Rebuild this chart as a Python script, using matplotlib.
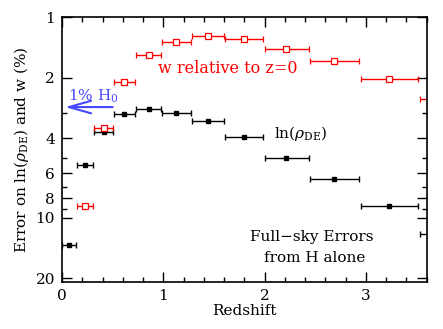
import matplotlib

matplotlib.use("Agg")
import matplotlib.pyplot as plt  # noqa: E402
from matplotlib.ticker import FixedLocator, MultipleLocator, NullFormatter  # noqa: E402

plt.rcParams.update({"font.family": "DejaVu Serif", "mathtext.fontset": "dejavuserif",
                     "font.size": 10})

# redshift bins (centre, lower edge, upper edge)
z_mid = [0.069, 0.227, 0.41, 0.615, 0.855, 1.128, 1.444, 1.80, 2.216, 2.69, 3.23, 3.80]
z_lo = [0.0, 0.151, 0.32, 0.513, 0.734, 0.99, 1.28, 1.61, 2.004, 2.445, 2.95, 3.53]
z_hi = [0.138, 0.309, 0.50, 0.724, 0.977, 1.27, 1.60, 1.987, 2.435, 2.935, 3.517, 4.15]

# error on ln(rho_DE) [%]
err_lnrho = [13.6, 5.47, 3.72, 3.04, 2.87, 3.01, 3.29, 3.96, 5.01, 6.42, 8.73, 12.0]
# error on w relative to z=0 [%] (no value in first bin)
err_w = [None, 8.76, 3.56, 2.10, 1.54, 1.33, 1.235, 1.287, 1.434, 1.65, 2.03, 2.55]

H0_ERR = 2.80          # 1% H0 arrow level
BLUE = "#4646ff"
FS = 11

fig = plt.figure(figsize=(4.43, 3.29), dpi=100)
ax = fig.add_axes([0.140, 0.144, 0.823, 0.803])


def draw(vals, color, **mk):
    xs, ys, lo, hi = [], [], [], []
    for m, a, b, v in zip(z_mid, z_lo, z_hi, vals):
        if v is None:
            continue
        xs.append(m); ys.append(v); lo.append(m - a); hi.append(b - m)
    ax.errorbar(xs, ys, xerr=[lo, hi], fmt="s", color=color, ecolor=color,
                elinewidth=1.0, capsize=2.2, capthick=1.0, **mk)


draw(err_lnrho, "black", ms=3.3, mfc="black", mec="black")
draw(err_w, "red", ms=4.2, mfc="white", mec="red", mew=0.9)

ax.annotate("", xy=(0.03, H0_ERR), xytext=(0.50, H0_ERR),
            arrowprops=dict(arrowstyle="->,head_length=1.6,head_width=0.45",
                            color=BLUE, lw=1.5, shrinkA=0, shrinkB=0))
ax.text(0.06, 2.60, r"1% H$_0$", color=BLUE, fontsize=FS, ha="left", va="baseline")
ax.text(0.95, 1.89, "w relative to z=0", color="red", fontsize=FS + 0.5, ha="left", va="baseline")
ax.text(2.09, 3.78, r"ln($\rho_{\rm DE}$)", color="black", fontsize=FS, ha="left", va="center")
ax.text(2.47, 12.4, "Full\u2212sky Errors", fontsize=FS, ha="center", va="center")
ax.text(2.49, 15.8, "from H alone", fontsize=FS, ha="center", va="center")

ax.set_yscale("log")
ax.set_xlim(0, 3.6)
ax.set_ylim(20.8, 1)
ax.yaxis.set_major_locator(FixedLocator([1, 2, 4, 6, 8, 10, 20]))
ax.yaxis.set_minor_locator(FixedLocator([3, 5, 7, 9]))
ax.set_yticklabels(["1", "2", "4", "6", "8", "10", "20"])
ax.yaxis.set_minor_formatter(NullFormatter())
ax.xaxis.set_major_locator(MultipleLocator(1))
ax.xaxis.set_minor_locator(MultipleLocator(0.2))

ax.tick_params(which="both", direction="in", top=True, right=True, width=1.0)
ax.tick_params(which="major", length=7, labelsize=FS, pad=5)
ax.tick_params(which="minor", length=3.5)
for s in ax.spines.values():
    s.set_linewidth(1.2)

ax.set_xlabel("Redshift", fontsize=FS, labelpad=1)
ax.set_ylabel(r"Error on ln($\rho_{\rm DE}$) and w (%)", fontsize=FS, labelpad=3)

fig.savefig("out.png", dpi=100)
